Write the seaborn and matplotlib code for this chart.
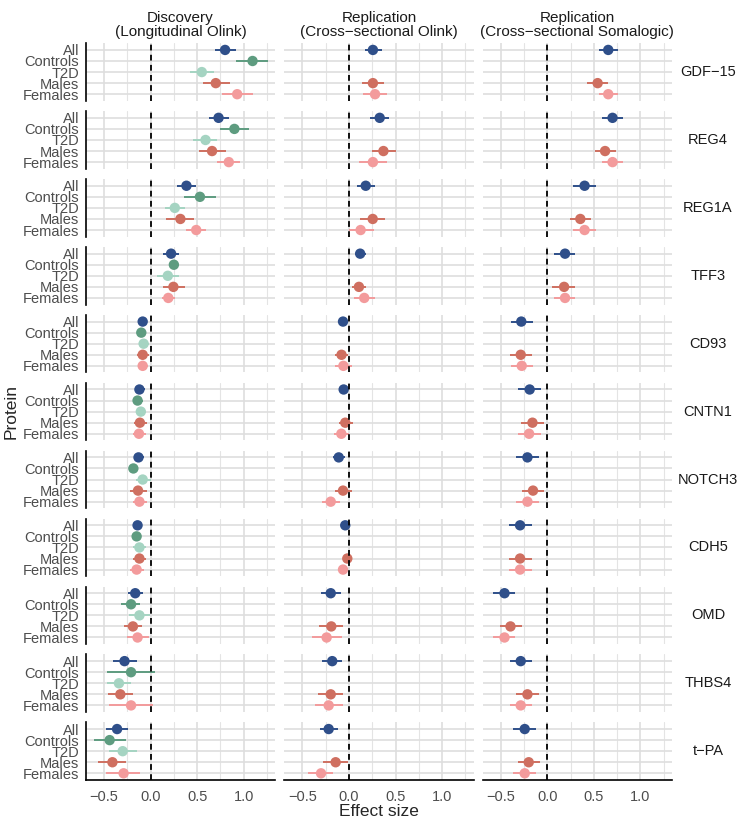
import pandas as pd
import numpy as np
import matplotlib.pyplot as plt
import seaborn as sns

proteins = ['GDF−15', 'REG4', 'REG1A', 'TFF3', 'CD93', 'CNTN1', 'NOTCH3', 'CDH5', 'OMD', 'THBS4', 't−PA']
groups = ['All', 'Controls', 'T2D', 'Males', 'Females']
studies = ['Discovery\n(Longitudinal Olink)',
           'Replication\n(Cross−sectional Olink)',
           'Replication\n(Cross−sectional Somalogic)']
group_colors = {'All': '#2F4F8A', 'Controls': '#5E9C80', 'T2D': '#A5D4C2',
                'Males': '#CF6F60', 'Females': '#F39B9C'}

# discovery: All, Controls, T2D, Males, Females
disc_est = [[0.80, 1.095, 0.55, 0.70, 0.93],
            [0.73, 0.90, 0.59, 0.66, 0.84],
            [0.385, 0.53, 0.26, 0.32, 0.49],
            [0.22, 0.25, 0.185, 0.245, 0.19],
            [-0.085, -0.10, -0.075, -0.085, -0.085],
            [-0.12, -0.14, -0.105, -0.115, -0.125],
            [-0.13, -0.185, -0.085, -0.135, -0.12],
            [-0.14, -0.15, -0.12, -0.12, -0.15],
            [-0.165, -0.21, -0.12, -0.19, -0.14],
            [-0.28, -0.21, -0.34, -0.325, -0.21],
            [-0.36, -0.44, -0.30, -0.41, -0.29]]
disc_lo = [[0.69, 0.92, 0.42, 0.56, 0.77],
           [0.63, 0.75, 0.46, 0.52, 0.71],
           [0.285, 0.36, 0.15, 0.17, 0.38],
           [0.135, 0.20, 0.07, 0.13, 0.12],
           [-0.13, -0.14, -0.125, -0.15, -0.135],
           [-0.165, -0.19, -0.16, -0.18, -0.19],
           [-0.18, -0.235, -0.16, -0.22, -0.19],
           [-0.18, -0.19, -0.185, -0.19, -0.22],
           [-0.245, -0.32, -0.23, -0.29, -0.25],
           [-0.405, -0.47, -0.47, -0.46, -0.45],
           [-0.48, -0.61, -0.45, -0.56, -0.475]]
disc_hi = [[0.92, 1.26, 0.68, 0.85, 1.10],
           [0.84, 1.06, 0.71, 0.81, 0.96],
           [0.49, 0.70, 0.37, 0.47, 0.59],
           [0.30, 0.30, 0.31, 0.37, 0.26],
           [-0.04, -0.05, -0.02, -0.02, -0.03],
           [-0.065, -0.08, -0.05, -0.04, -0.05],
           [-0.07, -0.135, 0.0, -0.04, -0.04],
           [-0.10, -0.11, -0.05, -0.045, -0.075],
           [-0.085, -0.11, -0.005, -0.09, -0.015],
           [-0.15, 0.05, -0.21, -0.19, 0.03],
           [-0.245, -0.26, -0.15, -0.26, -0.11]]

# replication olink: All, Males, Females
olink_est = [[0.257, 0.257, 0.28], [0.33, 0.37, 0.257], [0.18, 0.255, 0.125],
             [0.12, 0.107, 0.164], [-0.064, -0.08, -0.06], [-0.057, -0.04, -0.082],
             [-0.11, -0.064, -0.196], [-0.04, -0.018, -0.064], [-0.196, -0.19, -0.24],
             [-0.18, -0.196, -0.218], [-0.218, -0.143, -0.30]]
olink_lo = [[0.17, 0.135, 0.15], [0.23, 0.245, 0.11], [0.09, 0.12, 0.0],
            [0.06, 0.03, 0.05], [-0.11, -0.15, -0.146], [-0.10, -0.11, -0.165],
            [-0.175, -0.153, -0.29], [-0.08, -0.05, -0.10], [-0.30, -0.32, -0.40],
            [-0.29, -0.33, -0.37], [-0.31, -0.28, -0.435]]
olink_hi = [[0.35, 0.38, 0.41], [0.435, 0.50, 0.41], [0.28, 0.385, 0.265],
            [0.185, 0.185, 0.28], [-0.015, -0.01, 0.03], [-0.007, 0.04, 0.0],
            [-0.046, 0.03, -0.096], [0.0, 0.018, -0.02], [-0.09, -0.06, -0.075],
            [-0.075, -0.064, -0.06], [-0.12, -0.007, -0.17]]

# replication somalogic: All, Males, Females
soma_est = [[0.654, 0.54, 0.654], [0.70, 0.62, 0.70], [0.40, 0.354, 0.40],
            [0.19, 0.18, 0.19], [-0.28, -0.286, -0.275], [-0.19, -0.16, -0.196],
            [-0.214, -0.154, -0.214], [-0.293, -0.293, -0.293], [-0.46, -0.396, -0.46],
            [-0.286, -0.214, -0.286], [-0.243, -0.20, -0.243]]
soma_lo = [[0.55, 0.43, 0.55], [0.585, 0.51, 0.585], [0.28, 0.24, 0.28],
           [0.07, 0.054, 0.07], [-0.39, -0.40, -0.39], [-0.31, -0.28, -0.32],
           [-0.34, -0.27, -0.336], [-0.41, -0.41, -0.41], [-0.58, -0.51, -0.58],
           [-0.40, -0.34, -0.40], [-0.37, -0.318, -0.37]]
soma_hi = [[0.76, 0.65, 0.76], [0.81, 0.74, 0.81], [0.52, 0.47, 0.52],
           [0.30, 0.30, 0.30], [-0.157, -0.164, -0.154], [-0.07, -0.04, -0.07],
           [-0.093, -0.032, -0.093], [-0.17, -0.17, -0.17], [-0.35, -0.27, -0.35],
           [-0.164, -0.093, -0.164], [-0.12, -0.082, -0.12]]

rows = []
def add_rows(study, grp_list, est, lo, hi):
    for i, p in enumerate(proteins):
        for j, g in enumerate(grp_list):
            rows.append(dict(study=study, protein=p, group=g,
                             est=est[i][j], lo=lo[i][j], hi=hi[i][j]))

add_rows(studies[0], groups, disc_est, disc_lo, disc_hi)
add_rows(studies[1], ['All', 'Males', 'Females'], olink_est, olink_lo, olink_hi)
add_rows(studies[2], ['All', 'Males', 'Females'], soma_est, soma_lo, soma_hi)
df = pd.DataFrame(rows)
df['ypos'] = df['group'].map({g: i for i, g in enumerate(groups)})

sns.set_theme(style='white')
plt.rcParams['font.family'] = ['Liberation Sans', 'DejaVu Sans']

fig, axes = plt.subplots(len(proteins), len(studies), figsize=(7.38, 8.23), dpi=100,
                         sharex=True, sharey=True)
fig.subplots_adjust(left=0.1165, right=0.9106, top=0.9474, bottom=0.0523,
                    wspace=0.048, hspace=0.18)

for r, prot in enumerate(proteins):
    for c, study in enumerate(studies):
        ax = axes[r, c]
        sub = df[(df['study'] == study) & (df['protein'] == prot)]
        ax.hlines(sub['ypos'], sub['lo'], sub['hi'],
                  colors=sub['group'].map(group_colors), lw=1.4, zorder=2)
        sns.scatterplot(data=sub, x='est', y='ypos', hue='group', palette=group_colors,
                        s=56, linewidth=0, legend=False, ax=ax, zorder=3)
        ax.axvline(0, color='black', ls=(0, (3.2, 2.4)), lw=1.3, zorder=4)

        ax.set_xlim(-0.694, 1.339)
        ax.set_ylim(4.6, -0.6)
        ax.set_xticks([-0.5, 0.0, 0.5, 1.0])
        ax.set_xticks([-0.25, 0.25, 0.75, 1.25], minor=True)
        ax.set_yticks(range(len(groups)))
        ax.set_yticklabels(groups)
        ax.grid(which='major', color='#DEDEDE', lw=1.2)
        ax.grid(which='minor', axis='x', color='#E4E4E4', lw=0.8)
        ax.set_axisbelow(True)
        ax.set_xlabel('')
        ax.set_ylabel('')
        for s in ax.spines.values():
            s.set_visible(False)
        ax.tick_params(axis='x', which='both', length=0, labelsize=10.5,
                       labelcolor='#4D4D4D', pad=7)
        ax.tick_params(axis='y', length=3 if c == 0 else 0, width=1, color='#333333',
                       labelsize=10.5, labelcolor='#4D4D4D', pad=2)
        if c == 0:
            ax.spines['left'].set_visible(True)
            ax.spines['left'].set_color('black')
            ax.spines['left'].set_linewidth(1.2)
        if r == len(proteins) - 1:
            ax.spines['bottom'].set_visible(True)
            ax.spines['bottom'].set_color('black')
            ax.spines['bottom'].set_linewidth(1.2)
        if r == 0:
            ax.set_title(study, fontsize=11, color='#1A1A1A', pad=5, linespacing=1.0)
        if c == len(studies) - 1:
            ax.text(1.19, 0.5, prot, transform=ax.transAxes, ha='center', va='center',
                    fontsize=10.5, color='#1A1A1A')

fig.text(0.0145, 0.5, 'Protein', rotation=90, ha='center', va='center', fontsize=12.5)
fig.text(379 / 738, 0.014, 'Effect size', ha='center', va='center', fontsize=12.5)

plt.savefig('out.png', dpi=100)
